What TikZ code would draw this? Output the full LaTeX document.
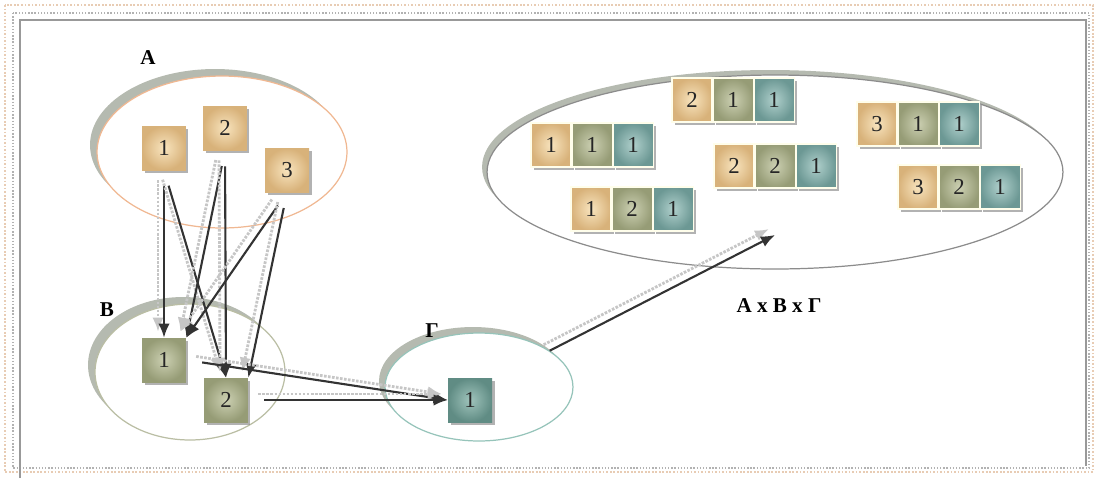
\documentclass[tikz,border=0pt]{standalone}
\usepackage{fontspec}
\setmainfont{Liberation Serif}
\usetikzlibrary{positioning,shapes.geometric,shadows,arrows.meta}

\definecolor{orangein}{RGB}{248,228,190}
\definecolor{orangeout}{RGB}{216,178,122}
\definecolor{olivein}{RGB}{204,208,178}
\definecolor{oliveout}{RGB}{150,156,118}
\definecolor{tealin}{RGB}{176,208,204}
\definecolor{tealout}{RGB}{108,152,148}
\definecolor{gammain}{RGB}{160,196,188}
\definecolor{gammaout}{RGB}{96,140,132}
\definecolor{rimgray}{RGB}{150,156,142}
\definecolor{edgeA}{RGB}{240,184,146}
\definecolor{edgeB}{RGB}{186,190,164}
\definecolor{edgeG}{RGB}{150,196,186}
\definecolor{framebeige}{RGB}{232,204,180}

\tikzset{
	box/.style={rectangle, minimum size=0.88cm, inner sep=0pt, text=black!85,
		font=\fontsize{13}{15}\selectfont,
		drop shadow={shadow xshift=0.05cm, shadow yshift=-0.05cm, opacity=0.6}},
	boxA/.style={box, inner color=orangein, outer color=orangeout},
	boxB/.style={box, inner color=olivein, outer color=oliveout},
	boxG/.style={box, inner color=gammain, outer color=gammaout},
	cell/.style={box, minimum width=0.8cm, minimum height=0.88cm, draw=white!92!yellow, line width=0.6pt},
	cellA/.style={cell, inner color=orangein, outer color=orangeout},
	cellB/.style={cell, inner color=olivein, outer color=oliveout},
	cellC/.style={cell, inner color=tealin, outer color=tealout},
	set/.style={ellipse, inner sep=0pt, fill=white, line width=0.7pt},
	rim/.style={general shadow={shadow xshift=-#1, shadow yshift=#1, fill=rimgray, opacity=0.7}},
	lbl/.style={font=\bfseries\fontsize{12}{14}\selectfont},
	link/.style={-{Latex[length=8pt,width=6.5pt]}, draw=black!80, line width=1.2pt,
		preaction={draw=gray!45, dash pattern=on 1.5pt off 0.8pt, line width=1.6pt,
			transform canvas={shift={(-6,-6)}}}},
}

\begin{document}
\begin{tikzpicture}[x=0.02cm, y=-0.02cm]
	\useasboundingbox (0,0) rectangle (1098,478);

	% page border
	\draw[framebeige, densely dotted, line width=1pt] (5,5) rectangle (1093,472);
	\draw[gray!60, densely dotted, line width=0.8pt] (13,13) rectangle (1089,468);
	\draw[gray!80, line width=0.7pt] (20,478) |- (1086,20) -- (1086,466);

	% the sets
	\node[set, rim=0.14cm, draw=edgeA, minimum width=5cm, minimum height=3.04cm] (setA) at (222,152) {};
	\node[set, rim=0.14cm, draw=edgeB, minimum width=3.8cm, minimum height=2.72cm] (setB) at (190,372) {};
	\node[set, rim=0.12cm, draw=edgeG, minimum width=3.76cm, minimum height=2.16cm] (setG) at (479,387) {};
	\node[set, rim=0.1cm, draw=gray!90, minimum width=11.52cm, minimum height=3.88cm] (setP) at (775,172) {};

	\node[lbl] (labA) at (148,58) {A};
	\node[lbl] (labB) at (107,310) {B};
	\node[lbl] (labG) at (432,331) {Γ};
	\node[lbl] (labP) at (779,306) {A x B x Γ};

	% elements
	\node[boxA] (a1) at (164,148) {1};
	\node[boxA] (a2) at (225,128) {2};
	\node[boxA] (a3) at (287,170) {3};
	\node[boxB] (b1) at (164,360) {1};
	\node[boxB] (b2) at (226,400) {2};
	\node[boxG] (g1) at (470,400) {1};

	% triples of A x B x Gamma
	\foreach \t/\x/\y/\a/\b/\c in {111/551/145/1/1/1, 211/692/100/2/1/1, 121/591/209/1/2/1,
		221/734/166/2/2/1, 311/877/124/3/1/1, 321/918/187/3/2/1}{
		\node[cellA] (t\t a) at (\x,\y) {\a};
		\node[cellB, right=0pt of t\t a] (t\t b) {\b};
		\node[cellC, right=0pt of t\t b] (t\t c) {\c};
	}

	\coordinate (pin) at (775,235);

	% mappings
	\foreach \s/\e in {a1.south/b1.north, a1.south/b2.north, a2.south/b1.north east,
		a2.south/b2.north, a3.south/b1.north east, a3.south/b2.north east,
		b1.east/g1.west, b2.east/g1.west}
		\draw[link, shorten <=0.32cm] (\s) -- (\e);
	\draw[link] (setG) -- (pin);
\end{tikzpicture}
\end{document}
